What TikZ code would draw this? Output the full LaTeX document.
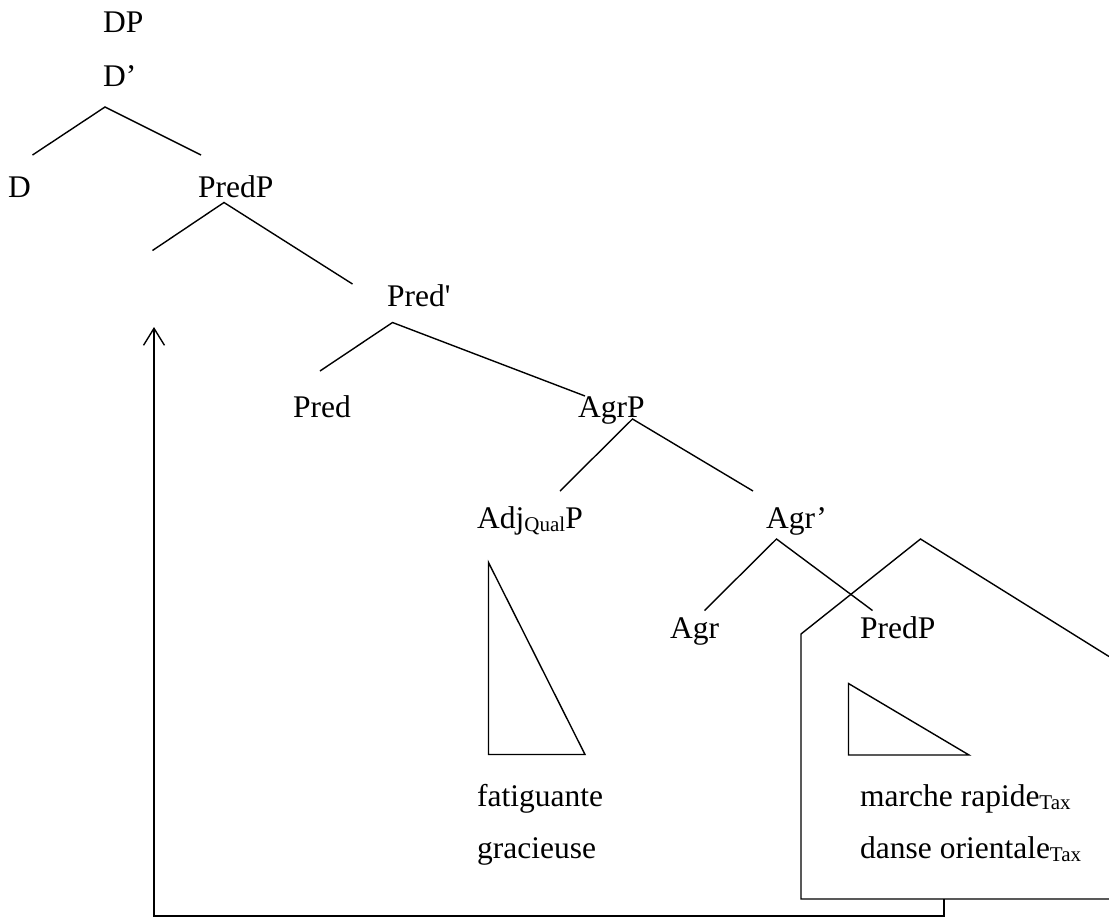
\documentclass[tikz,border=0pt]{standalone}
\usepackage{fontspec}
\setmainfont{Liberation Serif}
\usetikzlibrary{arrows.meta}
\newcommand\lowsub[1]{\raisebox{-3pt}{\fontsize{21}{21}\selectfont #1}}
\begin{document}
\begin{tikzpicture}[x=1pt,y=-1pt,
  lab/.style={anchor=base west,inner sep=0pt,font=\fontsize{31.5}{38}\selectfont},
  branch/.style={line width=1.4pt},
  tri/.style={line width=1.4pt,line join=miter},
  mover/.style={line width=1.4pt,-{Straight Barb[length=17pt,width=21pt,line width=1.4pt]}}]
\useasboundingbox (0,0) rectangle (1109,924);
% labels
\node[lab] (DP) at (103,32) {DP};
\node[lab] (Dbar) at (103,86) {D’};
\node[lab] (D) at (8,197) {D};
\node[lab] (PredP) at (198,197) {PredP};
\node[lab] (Predbar) at (387,306) {Pred\textquotesingle};
\node[lab] (Pred) at (293,417) {Pred};
\node[lab] (AgrP) at (578,417) {AgrP};
\node[lab] (AdjP) at (477,528) {Adj\lowsub{Qual}P};
\node[lab] (Agrbar) at (766,528) {Agr’};
\node[lab] (Agr) at (670,638) {Agr};
\node[lab] (PredPlow) at (860,638) {PredP};
\node[lab] (fat) at (477,806) {fatiguante};
\node[lab] (grac) at (477,858) {gracieuse};
\node[lab] (march) at (860,806) {marche rapide\lowsub{Tax}};
\node[lab] (danse) at (860,858) {danse orientale\lowsub{Tax}};
% branch points
\coordinate (Dbar-a) at (105,107);
\coordinate (Dbar-l) at (32.5,155);
\coordinate (Dbar-r) at (201,155);
\coordinate (PredP-a) at (224,202.5);
\coordinate (PredP-l) at (152.5,250.5);
\coordinate (PredP-r) at (352.5,284);
\coordinate (Predbar-a) at (392.5,322.5);
\coordinate (Predbar-l) at (320,371);
\coordinate (Predbar-r) at (585,396);
\coordinate (AgrP-a) at (632.5,419);
\coordinate (AgrP-l) at (560,491);
\coordinate (AgrP-r) at (753,491);
\coordinate (Agrbar-a) at (776.5,539);
\coordinate (Agrbar-l) at (704.5,610.5);
\coordinate (Agrbar-r) at (872.5,610.5);
\draw[branch] (Dbar-l) -- (Dbar-a) -- (Dbar-r);
\draw[branch] (PredP-l) -- (PredP-a) -- (PredP-r);
\draw[branch] (Predbar-l) -- (Predbar-a) -- (Predbar-r);
\draw[branch] (AgrP-l) -- (AgrP-a) -- (AgrP-r);
\draw[branch] (Agrbar-l) -- (Agrbar-a) -- (Agrbar-r);
% triangles
\coordinate (t1a) at (488.5,562.5);
\coordinate (t1b) at (488.5,754.5);
\coordinate (t1c) at (585,754.5);
\draw[tri] (t1a) -- (t1b) -- (t1c) -- cycle;
\coordinate (t2a) at (848.5,683.5);
\coordinate (t2b) at (848.5,755);
\coordinate (t2c) at (969,755);
\draw[tri] (t2a) -- (t2b) -- (t2c) -- cycle;
% moved constituent box
\coordinate (h1) at (1109,656.5);
\coordinate (h2) at (920.5,539);
\coordinate (h3) at (801,634);
\coordinate (h4) at (801,899);
\coordinate (h5) at (1109,899);
\draw[tri] (h1) -- (h2) -- (h3) -- (h4) -- (h5);
% movement arrow
\coordinate (m0) at (944,899);
\coordinate (m1) at (944,916);
\coordinate (m2) at (154,916);
\coordinate (m3) at (154,327);
\draw[mover] (m0) -- (m1) -- (m2) -- (m3);
\end{tikzpicture}
\end{document}
